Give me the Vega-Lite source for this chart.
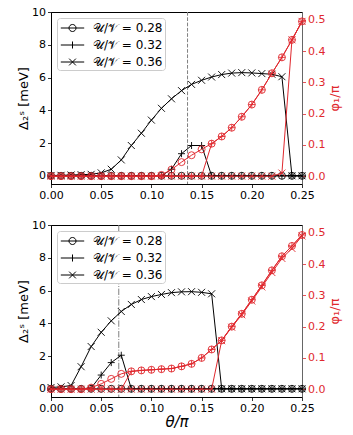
{
"$schema": "https://vega.github.io/schema/vega-lite/v6.json",
"padding": {"left": 17, "top": 5, "right": 0, "bottom": 0},
"datasets": {
"curves": [
{"panel":"a","series":"0.28","theta":0,"delta":0,"phi":0},
{"panel":"a","series":"0.28","theta":0.01,"delta":0,"phi":0},
{"panel":"a","series":"0.28","theta":0.02,"delta":0,"phi":0},
{"panel":"a","series":"0.28","theta":0.03,"delta":0,"phi":0},
{"panel":"a","series":"0.28","theta":0.04,"delta":0,"phi":0},
{"panel":"a","series":"0.28","theta":0.05,"delta":0,"phi":0},
{"panel":"a","series":"0.28","theta":0.06,"delta":0,"phi":0},
{"panel":"a","series":"0.28","theta":0.07,"delta":0,"phi":0},
{"panel":"a","series":"0.28","theta":0.08,"delta":0,"phi":0},
{"panel":"a","series":"0.28","theta":0.09,"delta":0,"phi":0},
{"panel":"a","series":"0.28","theta":0.10,"delta":0,"phi":0},
{"panel":"a","series":"0.28","theta":0.11,"delta":0,"phi":0.004},
{"panel":"a","series":"0.28","theta":0.12,"delta":0,"phi":0.021},
{"panel":"a","series":"0.28","theta":0.13,"delta":0,"phi":0.045},
{"panel":"a","series":"0.28","theta":0.14,"delta":0,"phi":0.067},
{"panel":"a","series":"0.28","theta":0.15,"delta":0,"phi":0.086},
{"panel":"a","series":"0.28","theta":0.16,"delta":0,"phi":0.104},
{"panel":"a","series":"0.28","theta":0.17,"delta":0,"phi":0.127},
{"panel":"a","series":"0.28","theta":0.18,"delta":0,"phi":0.155},
{"panel":"a","series":"0.28","theta":0.19,"delta":0,"phi":0.19},
{"panel":"a","series":"0.28","theta":0.20,"delta":0,"phi":0.229},
{"panel":"a","series":"0.28","theta":0.21,"delta":0,"phi":0.276},
{"panel":"a","series":"0.28","theta":0.22,"delta":0,"phi":0.329},
{"panel":"a","series":"0.28","theta":0.23,"delta":0,"phi":0.38},
{"panel":"a","series":"0.28","theta":0.24,"delta":0,"phi":0.436},
{"panel":"a","series":"0.28","theta":0.25,"delta":0,"phi":0.495},
{"panel":"a","series":"0.32","theta":0,"delta":0,"phi":0},
{"panel":"a","series":"0.32","theta":0.01,"delta":0,"phi":0},
{"panel":"a","series":"0.32","theta":0.02,"delta":0,"phi":0},
{"panel":"a","series":"0.32","theta":0.03,"delta":0,"phi":0},
{"panel":"a","series":"0.32","theta":0.04,"delta":0,"phi":0},
{"panel":"a","series":"0.32","theta":0.05,"delta":0,"phi":0},
{"panel":"a","series":"0.32","theta":0.06,"delta":0,"phi":0},
{"panel":"a","series":"0.32","theta":0.07,"delta":0,"phi":0},
{"panel":"a","series":"0.32","theta":0.08,"delta":0,"phi":0},
{"panel":"a","series":"0.32","theta":0.09,"delta":0,"phi":0},
{"panel":"a","series":"0.32","theta":0.10,"delta":0,"phi":0},
{"panel":"a","series":"0.32","theta":0.11,"delta":0,"phi":0},
{"panel":"a","series":"0.32","theta":0.12,"delta":0.4,"phi":0},
{"panel":"a","series":"0.32","theta":0.13,"delta":1.35,"phi":0},
{"panel":"a","series":"0.32","theta":0.14,"delta":1.85,"phi":0},
{"panel":"a","series":"0.32","theta":0.15,"delta":1.85,"phi":0},
{"panel":"a","series":"0.32","theta":0.16,"delta":0,"phi":0.104},
{"panel":"a","series":"0.32","theta":0.17,"delta":0,"phi":0.127},
{"panel":"a","series":"0.32","theta":0.18,"delta":0,"phi":0.155},
{"panel":"a","series":"0.32","theta":0.19,"delta":0,"phi":0.19},
{"panel":"a","series":"0.32","theta":0.20,"delta":0,"phi":0.229},
{"panel":"a","series":"0.32","theta":0.21,"delta":0,"phi":0.276},
{"panel":"a","series":"0.32","theta":0.22,"delta":0,"phi":0.329},
{"panel":"a","series":"0.32","theta":0.23,"delta":0,"phi":0.38},
{"panel":"a","series":"0.32","theta":0.24,"delta":0,"phi":0.436},
{"panel":"a","series":"0.32","theta":0.25,"delta":0,"phi":0.495},
{"panel":"a","series":"0.36","theta":0,"delta":0.02,"phi":0},
{"panel":"a","series":"0.36","theta":0.01,"delta":0.03,"phi":0},
{"panel":"a","series":"0.36","theta":0.02,"delta":0.05,"phi":0},
{"panel":"a","series":"0.36","theta":0.03,"delta":0.07,"phi":0},
{"panel":"a","series":"0.36","theta":0.04,"delta":0.09,"phi":0},
{"panel":"a","series":"0.36","theta":0.05,"delta":0.18,"phi":0},
{"panel":"a","series":"0.36","theta":0.06,"delta":0.4,"phi":0},
{"panel":"a","series":"0.36","theta":0.07,"delta":0.97,"phi":0},
{"panel":"a","series":"0.36","theta":0.08,"delta":1.85,"phi":0},
{"panel":"a","series":"0.36","theta":0.09,"delta":2.6,"phi":0},
{"panel":"a","series":"0.36","theta":0.10,"delta":3.4,"phi":0},
{"panel":"a","series":"0.36","theta":0.11,"delta":4.12,"phi":0},
{"panel":"a","series":"0.36","theta":0.12,"delta":4.7,"phi":0},
{"panel":"a","series":"0.36","theta":0.13,"delta":5.2,"phi":0},
{"panel":"a","series":"0.36","theta":0.14,"delta":5.58,"phi":0},
{"panel":"a","series":"0.36","theta":0.15,"delta":5.83,"phi":0},
{"panel":"a","series":"0.36","theta":0.16,"delta":6.03,"phi":0},
{"panel":"a","series":"0.36","theta":0.17,"delta":6.18,"phi":0},
{"panel":"a","series":"0.36","theta":0.18,"delta":6.27,"phi":0},
{"panel":"a","series":"0.36","theta":0.19,"delta":6.3,"phi":0},
{"panel":"a","series":"0.36","theta":0.20,"delta":6.28,"phi":0},
{"panel":"a","series":"0.36","theta":0.21,"delta":6.24,"phi":0},
{"panel":"a","series":"0.36","theta":0.22,"delta":6.2,"phi":0},
{"panel":"a","series":"0.36","theta":0.23,"delta":6.05,"phi":0.01},
{"panel":"a","series":"0.36","theta":0.24,"delta":0,"phi":0.436},
{"panel":"a","series":"0.36","theta":0.25,"delta":0,"phi":0.495},
{"panel":"b","series":"0.28","theta":0,"delta":0,"phi":0},
{"panel":"b","series":"0.28","theta":0.01,"delta":0,"phi":0},
{"panel":"b","series":"0.28","theta":0.02,"delta":0,"phi":0},
{"panel":"b","series":"0.28","theta":0.03,"delta":0,"phi":0},
{"panel":"b","series":"0.28","theta":0.04,"delta":0,"phi":0.005},
{"panel":"b","series":"0.28","theta":0.05,"delta":0,"phi":0.017},
{"panel":"b","series":"0.28","theta":0.06,"delta":0,"phi":0.033},
{"panel":"b","series":"0.28","theta":0.07,"delta":0,"phi":0.049},
{"panel":"b","series":"0.28","theta":0.08,"delta":0,"phi":0.057},
{"panel":"b","series":"0.28","theta":0.09,"delta":0,"phi":0.06},
{"panel":"b","series":"0.28","theta":0.10,"delta":0,"phi":0.062},
{"panel":"b","series":"0.28","theta":0.11,"delta":0,"phi":0.064},
{"panel":"b","series":"0.28","theta":0.12,"delta":0,"phi":0.066},
{"panel":"b","series":"0.28","theta":0.13,"delta":0,"phi":0.073},
{"panel":"b","series":"0.28","theta":0.14,"delta":0,"phi":0.081},
{"panel":"b","series":"0.28","theta":0.15,"delta":0,"phi":0.1},
{"panel":"b","series":"0.28","theta":0.16,"delta":0,"phi":0.127},
{"panel":"b","series":"0.28","theta":0.17,"delta":0,"phi":0.156},
{"panel":"b","series":"0.28","theta":0.18,"delta":0,"phi":0.2},
{"panel":"b","series":"0.28","theta":0.19,"delta":0,"phi":0.241},
{"panel":"b","series":"0.28","theta":0.20,"delta":0,"phi":0.286},
{"panel":"b","series":"0.28","theta":0.21,"delta":0,"phi":0.332},
{"panel":"b","series":"0.28","theta":0.22,"delta":0,"phi":0.38},
{"panel":"b","series":"0.28","theta":0.23,"delta":0,"phi":0.425},
{"panel":"b","series":"0.28","theta":0.24,"delta":0,"phi":0.458},
{"panel":"b","series":"0.28","theta":0.25,"delta":0,"phi":0.493},
{"panel":"b","series":"0.32","theta":0,"delta":0,"phi":0},
{"panel":"b","series":"0.32","theta":0.01,"delta":0,"phi":0},
{"panel":"b","series":"0.32","theta":0.02,"delta":0,"phi":0},
{"panel":"b","series":"0.32","theta":0.03,"delta":0,"phi":0},
{"panel":"b","series":"0.32","theta":0.04,"delta":0.05,"phi":0},
{"panel":"b","series":"0.32","theta":0.05,"delta":0.84,"phi":0},
{"panel":"b","series":"0.32","theta":0.06,"delta":1.6,"phi":0},
{"panel":"b","series":"0.32","theta":0.07,"delta":2.05,"phi":0},
{"panel":"b","series":"0.32","theta":0.08,"delta":0,"phi":0.057},
{"panel":"b","series":"0.32","theta":0.09,"delta":0,"phi":0.06},
{"panel":"b","series":"0.32","theta":0.10,"delta":0,"phi":0.062},
{"panel":"b","series":"0.32","theta":0.11,"delta":0,"phi":0.064},
{"panel":"b","series":"0.32","theta":0.12,"delta":0,"phi":0.066},
{"panel":"b","series":"0.32","theta":0.13,"delta":0,"phi":0.073},
{"panel":"b","series":"0.32","theta":0.14,"delta":0,"phi":0.081},
{"panel":"b","series":"0.32","theta":0.15,"delta":0,"phi":0.1},
{"panel":"b","series":"0.32","theta":0.16,"delta":0,"phi":0.127},
{"panel":"b","series":"0.32","theta":0.17,"delta":0,"phi":0.156},
{"panel":"b","series":"0.32","theta":0.18,"delta":0,"phi":0.2},
{"panel":"b","series":"0.32","theta":0.19,"delta":0,"phi":0.241},
{"panel":"b","series":"0.32","theta":0.20,"delta":0,"phi":0.286},
{"panel":"b","series":"0.32","theta":0.21,"delta":0,"phi":0.332},
{"panel":"b","series":"0.32","theta":0.22,"delta":0,"phi":0.38},
{"panel":"b","series":"0.32","theta":0.23,"delta":0,"phi":0.425},
{"panel":"b","series":"0.32","theta":0.24,"delta":0,"phi":0.458},
{"panel":"b","series":"0.32","theta":0.25,"delta":0,"phi":0.493},
{"panel":"b","series":"0.36","theta":0,"delta":0.08,"phi":0},
{"panel":"b","series":"0.36","theta":0.01,"delta":0.12,"phi":0},
{"panel":"b","series":"0.36","theta":0.02,"delta":0.2,"phi":0},
{"panel":"b","series":"0.36","theta":0.03,"delta":1.35,"phi":0},
{"panel":"b","series":"0.36","theta":0.04,"delta":2.58,"phi":0},
{"panel":"b","series":"0.36","theta":0.05,"delta":3.45,"phi":0},
{"panel":"b","series":"0.36","theta":0.06,"delta":4.15,"phi":0},
{"panel":"b","series":"0.36","theta":0.07,"delta":4.72,"phi":0},
{"panel":"b","series":"0.36","theta":0.08,"delta":5.15,"phi":0},
{"panel":"b","series":"0.36","theta":0.09,"delta":5.45,"phi":0},
{"panel":"b","series":"0.36","theta":0.10,"delta":5.63,"phi":0},
{"panel":"b","series":"0.36","theta":0.11,"delta":5.76,"phi":0},
{"panel":"b","series":"0.36","theta":0.12,"delta":5.87,"phi":0},
{"panel":"b","series":"0.36","theta":0.13,"delta":5.92,"phi":0},
{"panel":"b","series":"0.36","theta":0.14,"delta":5.93,"phi":0},
{"panel":"b","series":"0.36","theta":0.15,"delta":5.89,"phi":0},
{"panel":"b","series":"0.36","theta":0.16,"delta":5.8,"phi":0},
{"panel":"b","series":"0.36","theta":0.17,"delta":0,"phi":0.155},
{"panel":"b","series":"0.36","theta":0.18,"delta":0,"phi":0.198},
{"panel":"b","series":"0.36","theta":0.19,"delta":0,"phi":0.238},
{"panel":"b","series":"0.36","theta":0.20,"delta":0,"phi":0.282},
{"panel":"b","series":"0.36","theta":0.21,"delta":0,"phi":0.327},
{"panel":"b","series":"0.36","theta":0.22,"delta":0,"phi":0.373},
{"panel":"b","series":"0.36","theta":0.23,"delta":0,"phi":0.418},
{"panel":"b","series":"0.36","theta":0.24,"delta":0,"phi":0.45},
{"panel":"b","series":"0.36","theta":0.25,"delta":0,"phi":0.49}
],
"vlines": [
{"panel":"a","theta":0.136},
{"panel":"b","theta":0.0675}
]
},
"config": {
"font": "DejaVu Sans",
"view": {"stroke": "black", "strokeWidth": 1},
"axis": {"grid": false, "tickSize": 3.5, "tickWidth": 0.8, "labelFontSize": 11, "titleFontSize": 13, "labelPadding": 2, "titleFontWeight": "normal", "labelColor": "black", "tickColor": "black", "domainColor": "black", "titleColor": "black", "labelFont": "DejaVu Sans", "titleFont": "DejaVu Sans", "labelOverlap": false, "labelFlush": false},
"legend": {"labelFont": "DejaVu Sans"}
},
"spacing": 17,
"vconcat": [
{
"width": 251, "height": 172,
"data": {"name": "curves"},
"transform": [{"filter": "datum.panel === 'a'"}],
"encoding": {"x": {"field": "theta", "type": "quantitative", "scale": {"domain": [0, 0.25], "nice": false, "zero": false}, "axis": {"values": [0, 0.05, 0.1, 0.15, 0.2, 0.25], "tickCount": 20, "labelFlush": false, "format": ".2f", "title": null}}},
"layer": [
{"layer": [
{"data": {"name": "vlines"}, "transform": [{"filter": "datum.panel === 'a'"}], "mark": {"type": "rule", "color": "gray", "strokeDash": [3.7, 1.6], "strokeWidth": 1}, "encoding": {"x": {"field": "theta", "type": "quantitative"}}},
{"mark": {"type": "line", "color": "black", "strokeWidth": 1}, "encoding": {"y": {"field": "delta", "type": "quantitative", "scale": {"domain": [-0.5, 10], "nice": false, "zero": false}, "axis": {"values": [0, 2, 4, 6, 8, 10], "tickCount": 20, "format": "d", "title": "Δ₂ˢ [meV]", "titlePadding": 1}}, "detail": {"field": "series"}}},
{"mark": {"type": "point", "filled": false, "color": "black", "strokeWidth": 0.9, "size": 49, "opacity": 1}, "encoding": {"y": {"field": "delta", "type": "quantitative"}, "shape": {"field": "series", "type": "nominal", "scale": {"domain": ["0.28", "0.32", "0.36"], "range": ["circle", "M-1,0L1,0M0,-1L0,1", "M-1,-1L1,1M-1,1L1,-1"]}, "legend": null}}}
]},
{"layer": [
{"mark": {"type": "line", "color": "#e0282e", "strokeWidth": 1}, "encoding": {"y": {"field": "phi", "type": "quantitative", "scale": {"domain": [-0.025, 0.525], "nice": false, "zero": false}, "axis": {"orient": "right", "values": [0, 0.1, 0.2, 0.3, 0.4, 0.5], "tickCount": 20, "format": ".1f", "title": "φ₁/π", "titleAngle": 270, "titleBaseline": "top", "titleColor": "#e0282e", "labelColor": "#e0282e", "tickColor": "#e0282e", "domainColor": "#666666", "titlePadding": 4}}, "detail": {"field": "series"}}},
{"mark": {"type": "point", "filled": false, "color": "#e0282e", "strokeWidth": 0.9, "size": 49, "opacity": 1}, "encoding": {"y": {"field": "phi", "type": "quantitative"}, "shape": {"field": "series", "type": "nominal", "scale": {"domain": ["0.28", "0.32", "0.36"], "range": ["circle", "M-1,0L1,0M0,-1L0,1", "M-1,-1L1,1M-1,1L1,-1"]}, "legend": null}}}
]},
{"mark": {"type": "point", "filled": false, "color": "black", "strokeWidth": 1, "size": 225, "opacity": 0}, "encoding": {"shape": {"field": "series", "type": "nominal", "scale": {"domain": ["0.28", "0.32", "0.36"], "range": ["M-1.56,0L1.56,0M-0.47,0A0.47,0.47 0 1,1 0.47,0A0.47,0.47 0 1,1 -0.47,0", "M-1.56,0L1.56,0M0,-0.47L0,0.47", "M-1.56,0L1.56,0M-0.45,-0.45L0.45,0.45M-0.45,0.45L0.45,-0.45"]}, "legend": {"title": null, "orient": "top-left", "offset": 6, "padding": 2, "symbolOffset": 5.5, "fillColor": "white", "strokeColor": "#cccccc", "cornerRadius": 3, "symbolSize": 225, "symbolStrokeWidth": 1, "symbolStrokeColor": "black", "symbolFillColor": "transparent", "symbolOpacity": 1, "labelFontSize": 12, "labelOffset": 12.5, "rowPadding": 3, "labelExpr": "'𝒰/𝒱 = ' + datum.label"}}}}
],
"resolve": {"scale": {"y": "independent", "shape": "independent"}}
},
{
"width": 251, "height": 172,
"data": {"name": "curves"},
"transform": [{"filter": "datum.panel === 'b'"}],
"encoding": {"x": {"field": "theta", "type": "quantitative", "scale": {"domain": [0, 0.25], "nice": false, "zero": false}, "axis": {"values": [0, 0.05, 0.1, 0.15, 0.2, 0.25], "tickCount": 20, "labelFlush": false, "format": ".2f", "title": "θ/π", "titleFontSize": 15, "titleFontStyle": "italic", "titlePadding": 1}}},
"layer": [
{"layer": [
{"data": {"name": "vlines"}, "transform": [{"filter": "datum.panel === 'b'"}], "mark": {"type": "rule", "color": "gray", "strokeDash": [6.4, 1.6, 1, 1.6], "strokeWidth": 1}, "encoding": {"x": {"field": "theta", "type": "quantitative"}}},
{"mark": {"type": "line", "color": "black", "strokeWidth": 1}, "encoding": {"y": {"field": "delta", "type": "quantitative", "scale": {"domain": [-0.5, 10], "nice": false, "zero": false}, "axis": {"values": [0, 2, 4, 6, 8, 10], "tickCount": 20, "format": "d", "title": "Δ₂ˢ [meV]", "titlePadding": 1}}, "detail": {"field": "series"}}},
{"mark": {"type": "point", "filled": false, "color": "black", "strokeWidth": 0.9, "size": 49, "opacity": 1}, "encoding": {"y": {"field": "delta", "type": "quantitative"}, "shape": {"field": "series", "type": "nominal", "scale": {"domain": ["0.28", "0.32", "0.36"], "range": ["circle", "M-1,0L1,0M0,-1L0,1", "M-1,-1L1,1M-1,1L1,-1"]}, "legend": null}}}
]},
{"layer": [
{"mark": {"type": "line", "color": "#e0282e", "strokeWidth": 1}, "encoding": {"y": {"field": "phi", "type": "quantitative", "scale": {"domain": [-0.025, 0.525], "nice": false, "zero": false}, "axis": {"orient": "right", "values": [0, 0.1, 0.2, 0.3, 0.4, 0.5], "tickCount": 20, "format": ".1f", "title": "φ₁/π", "titleAngle": 270, "titleBaseline": "top", "titleColor": "#e0282e", "labelColor": "#e0282e", "tickColor": "#e0282e", "domainColor": "#666666", "titlePadding": 4}}, "detail": {"field": "series"}}},
{"mark": {"type": "point", "filled": false, "color": "#e0282e", "strokeWidth": 0.9, "size": 49, "opacity": 1}, "encoding": {"y": {"field": "phi", "type": "quantitative"}, "shape": {"field": "series", "type": "nominal", "scale": {"domain": ["0.28", "0.32", "0.36"], "range": ["circle", "M-1,0L1,0M0,-1L0,1", "M-1,-1L1,1M-1,1L1,-1"]}, "legend": null}}}
]},
{"mark": {"type": "point", "filled": false, "color": "black", "strokeWidth": 1, "size": 225, "opacity": 0}, "encoding": {"shape": {"field": "series", "type": "nominal", "scale": {"domain": ["0.28", "0.32", "0.36"], "range": ["M-1.56,0L1.56,0M-0.47,0A0.47,0.47 0 1,1 0.47,0A0.47,0.47 0 1,1 -0.47,0", "M-1.56,0L1.56,0M0,-0.47L0,0.47", "M-1.56,0L1.56,0M-0.45,-0.45L0.45,0.45M-0.45,0.45L0.45,-0.45"]}, "legend": {"title": null, "orient": "top-left", "offset": 6, "padding": 2, "symbolOffset": 5.5, "fillColor": "white", "strokeColor": "#cccccc", "cornerRadius": 3, "symbolSize": 225, "symbolStrokeWidth": 1, "symbolStrokeColor": "black", "symbolFillColor": "transparent", "symbolOpacity": 1, "labelFontSize": 12, "labelOffset": 12.5, "rowPadding": 3, "labelExpr": "'𝒰/𝒱 = ' + datum.label"}}}}
],
"resolve": {"scale": {"y": "independent", "shape": "independent"}}
}
]
}
